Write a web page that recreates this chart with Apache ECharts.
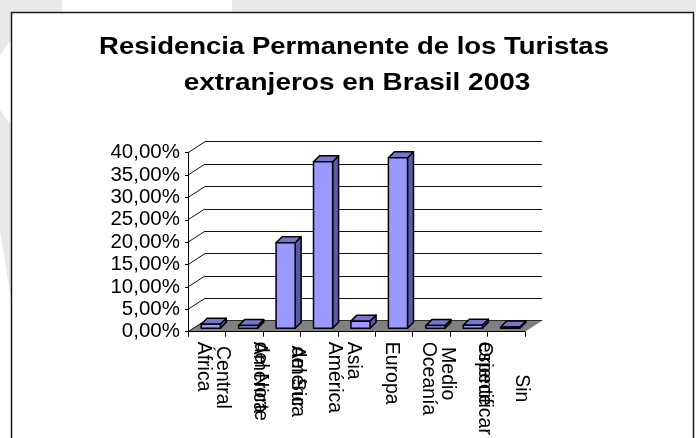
<!DOCTYPE html>
<html>
<head>
<meta charset="utf-8">
<script src="https://cdn.jsdelivr.net/npm/echarts@6/dist/echarts.min.js"></script>
<style>
html,body{margin:0;padding:0;background:#fff;}
#chart{width:696px;height:438px;}
</style>
</head>
<body>
<div id="chart"></div>
<script>
// ---- data ----
const categories = ['África', 'América\nCentral', 'América\ndel Norte', 'América\ndel Sur', 'Asia', 'Europa', 'Oceanía', 'Oriente\nMedio', 'Sin\nespecificar'];
const shares = [0.9, 0.6, 19.1, 37.2, 1.6, 38.1, 0.6, 0.7, 0.3];
const yTicks = [0, 5, 10, 15, 20, 25, 30, 35, 40];
const titleLines = ['Residencia Permanente de los Turistas', 'extranjeros en Brasil 2003'];

// ---- layout / style ----
const FONT = "'Liberation Sans', Arial, sans-serif";
const G = { left: 188, top: 152.7, width: 337, height: 179 };
const DEPTH = { x: 17, y: -11 };
const BAR_OFF = { x: 4, y: -3.4 };
const BAR_DEPTH = { x: 6, y: -6 };

const chart = echarts.init(document.getElementById('chart'), null, { renderer: 'canvas' });

function fmtPct(v) { return v.toFixed(2).replace('.', ',') + '%'; }

const option = {
  animation: false,
  backgroundColor: '#ffffff',
  graphic: [
    { type: 'rect', z: -20, shape: { x: 0, y: 0, width: 62, height: 12 }, style: { fill: '#e8e8e8' } },
    { type: 'rect', z: -20, shape: { x: 232, y: 0, width: 464, height: 12 }, style: { fill: '#e8e8e8' } },
    { type: 'polygon', z: -20, shape: { points: [[0, 0], [11, 0], [11, 40], [0, 55]] }, style: { fill: '#e8e8e8' } },
    { type: 'polygon', z: -20, shape: { points: [[0, 110], [11, 125], [11, 300], [0, 230]] }, style: { fill: '#e8e8e8' } },
    { type: 'rect', z: -10, shape: { x: 11.5, y: 12.5, width: 682, height: 440 }, style: { fill: '#ffffff', stroke: '#1a1a1a', lineWidth: 1.5 } },
    { type: 'text', z: 10, x: 354, y: 48, scaleX: 1.17,
      style: { text: titleLines[0], align: 'center', verticalAlign: 'middle', textAlign: 'center', textVerticalAlign: 'middle',
               fontSize: 23.5, fontWeight: 'bold', fontFamily: FONT, fill: '#000' } },
    { type: 'text', z: 10, x: 357, y: 83.5, scaleX: 1.19,
      style: { text: titleLines[1], align: 'center', verticalAlign: 'middle', textAlign: 'center', textVerticalAlign: 'middle',
               fontSize: 23.5, fontWeight: 'bold', fontFamily: FONT, fill: '#000' } }
  ],
  grid: [
    { left: G.left, top: G.top, width: G.width, height: G.height, containLabel: false },
    { left: G.left + DEPTH.x, top: G.top + DEPTH.y, width: G.width, height: G.height, containLabel: false }
  ],
  xAxis: [
    {
      type: 'category', gridIndex: 0, data: categories, z: 10,
      axisLine: { show: true, lineStyle: { color: '#000', width: 1 } },
      axisTick: { show: true, length: 5, lineStyle: { color: '#000', width: 1 } },
      axisLabel: {
        interval: 0, rotate: -90, margin: 10, color: '#000', fontSize: 19.5, fontFamily: FONT,
        padding: [6, 0, 0, 0],
        formatter: function (v) { return v.split('\n').map(function (s) { return '{c|' + s + '}'; }).join('\n'); },
        rich: { c: { align: 'center', fontSize: 19.5, fontFamily: FONT, color: '#000', lineHeight: 37 } }
      }
    },
    { type: 'category', gridIndex: 1, data: categories, show: false }
  ],
  yAxis: [
    {
      type: 'value', gridIndex: 0, min: 0, max: 40, interval: 5, z: 10,
      splitLine: { show: false },
      axisLine: { show: true, lineStyle: { color: '#000', width: 1 } },
      axisTick: { show: true, length: 3, lineStyle: { color: '#000', width: 1 } },
      axisLabel: { margin: 8, color: '#000', fontSize: 20.5, fontFamily: FONT, formatter: fmtPct }
    },
    {
      type: 'value', gridIndex: 1, min: 0, max: 40, interval: 5,
      axisLine: { show: false }, axisTick: { show: false }, axisLabel: { show: false },
      splitLine: { show: true, lineStyle: { color: '#111', width: 1 } }
    }
  ],
  series: [
    {
      type: 'custom', name: 'floor', xAxisIndex: 0, yAxisIndex: 0, z: 1, silent: true,
      data: [[0, 0]],
      renderItem: function (params, api) {
        const cs = params.coordSys;
        const yb = cs.y + cs.height;
        return {
          type: 'polygon',
          shape: { points: [[cs.x, yb], [cs.x + cs.width, yb], [cs.x + cs.width + DEPTH.x, yb + DEPTH.y], [cs.x + DEPTH.x, yb + DEPTH.y]] },
          style: { fill: '#808080', stroke: null }
        };
      }
    },
    {
      type: 'custom', name: 'wallEdges', xAxisIndex: 0, yAxisIndex: 0, z: 3, silent: true,
      data: yTicks.map(function (t) { return [0, t]; }),
      renderItem: function (params, api) {
        const cs = params.coordSys;
        const p = api.coord([0, api.value(1)]);
        return {
          type: 'line',
          shape: { x1: cs.x, y1: p[1], x2: cs.x + DEPTH.x, y2: p[1] + DEPTH.y },
          style: { stroke: '#111', lineWidth: 1 }
        };
      }
    },
    {
      type: 'custom', name: 'Residencia', xAxisIndex: 0, yAxisIndex: 0, z: 5,
      data: shares.map(function (v, i) { return [i, v]; }),
      encode: { x: 0, y: 1 },
      renderItem: function (params, api) {
        const c0 = api.coord([api.value(0), 0]);
        const c1 = api.coord([api.value(0), api.value(1)]);
        const bw = api.size([1, 0])[0] * 0.51;
        const xl = c0[0] - bw / 2 + BAR_OFF.x, xr = xl + bw;
        const yb = c0[1] + BAR_OFF.y, yt = c1[1] + BAR_OFF.y;
        const dx = BAR_DEPTH.x, dy = BAR_DEPTH.y;
        const st = { stroke: '#000', lineWidth: 1.5, lineJoin: 'round' };
        return {
          type: 'group',
          children: [
            { type: 'polygon', shape: { points: [[xr, yt], [xr + dx, yt + dy], [xr + dx, yb + dy], [xr, yb]] },
              style: Object.assign({ fill: '#5a5aa8' }, st) },
            { type: 'polygon', shape: { points: [[xl, yt], [xr, yt], [xr + dx, yt + dy], [xl + dx, yt + dy]] },
              style: Object.assign({ fill: '#7676cc' }, st) },
            { type: 'rect', shape: { x: xl, y: yt, width: bw, height: yb - yt },
              style: Object.assign({ fill: '#9999ff' }, st) }
          ]
        };
      }
    }
  ]
};
chart.setOption(option);
</script>
</body>
</html>
